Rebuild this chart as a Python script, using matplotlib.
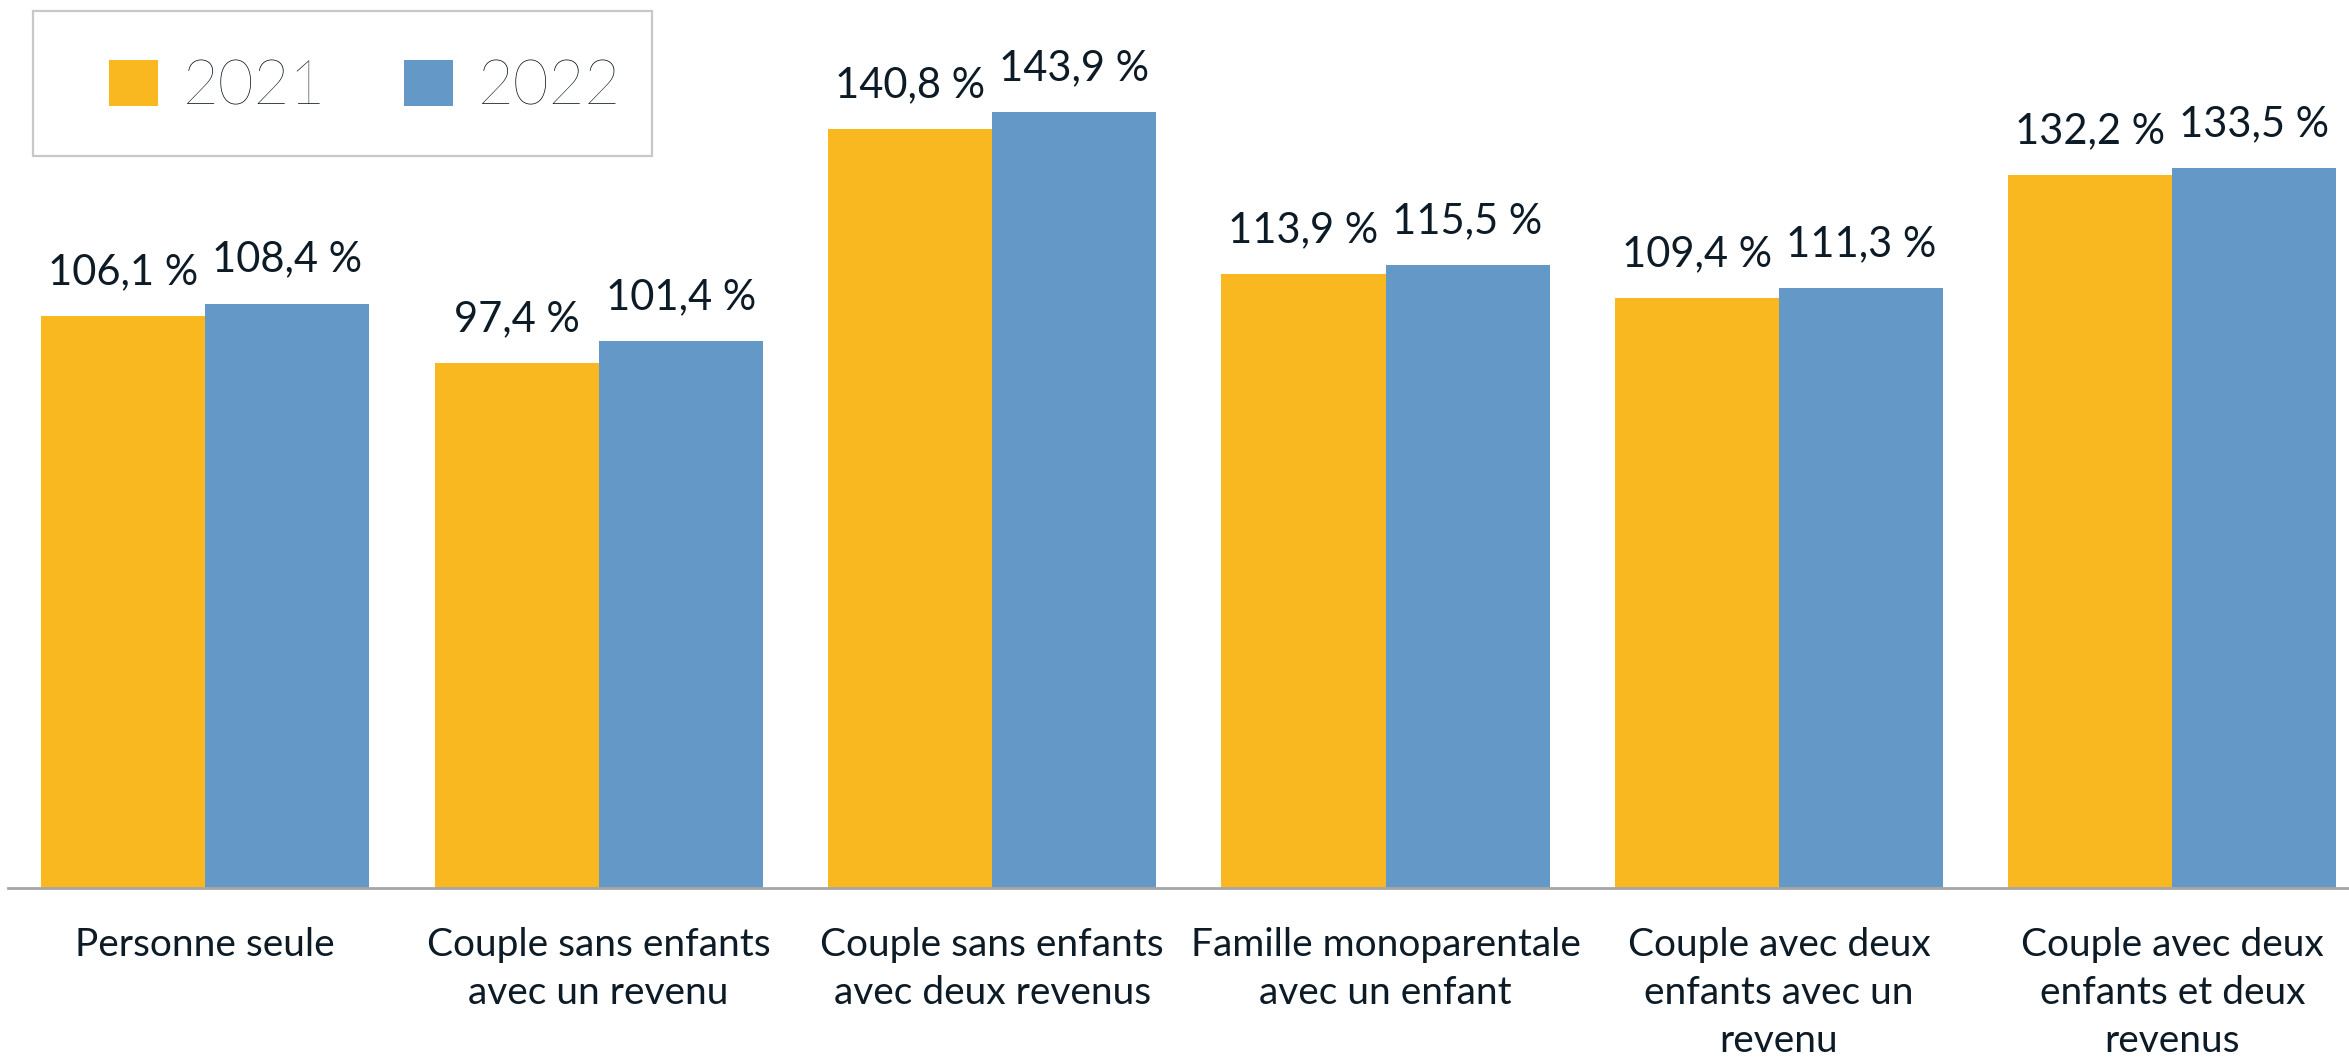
import matplotlib
matplotlib.use("Agg")
import matplotlib.pyplot as plt
from matplotlib.patches import Rectangle
import numpy as np

categories = [
    "Personne seule",
    "Couple sans enfants\navec un revenu",
    "Couple sans enfants\navec deux revenus",
    "Famille monoparentale\navec un enfant",
    "Couple avec deux\nenfants avec un\nrevenu",
    "Couple avec deux\nenfants et deux\nrevenus",
]
values_2021 = [106.1, 97.4, 140.8, 113.9, 109.4, 132.2]
values_2022 = [108.4, 101.4, 143.9, 115.5, 111.3, 133.5]
series_names = ["2021", "2022"]

COL_2021 = "#F9B81F"
COL_2022 = "#6398C7"
TXT = "#0D1B26"

plt.rcParams['font.family'] = ['Lato', 'DejaVu Sans']

fig = plt.figure(figsize=(23.49, 10.61), dpi=100)
ax = fig.add_axes([0.0032, 0.163, 0.9968, 0.837])

x = np.arange(len(categories))
w = 0.417
b1 = ax.bar(x - w / 2, values_2021, width=w, color=COL_2021, label=series_names[0], zorder=2)
b2 = ax.bar(x + w / 2, values_2022, width=w, color=COL_2022, label=series_names[1], zorder=2)

def fmt(v):
    return f"{v:.1f}".replace(".", ",") + " %"

for bars, vals in ((b1, values_2021), (b2, values_2022)):
    for rect, v in zip(bars, vals):
        ax.annotate(fmt(v), (rect.get_x() + rect.get_width() / 2, v),
                    xytext=(0, 23), textcoords="offset points",
                    ha="center", va="baseline", fontsize=30, color=TXT)

ax.set_xlim(-0.5026, 5.449)
ax.set_ylim(0, 164.7)
ax.set_xticks(x)
ax.set_xticklabels(categories, fontsize=28, color=TXT, linespacing=1.42)
ax.tick_params(axis="x", length=0, pad=28)
ax.set_yticks([])
for s in ("top", "left", "right"):
    ax.spines[s].set_visible(False)
ax.spines["bottom"].set_color("#A6A6A6")
ax.spines["bottom"].set_linewidth(2.0)
ax.spines["bottom"].set_zorder(3)

# legend frame (drawn separately so that inner padding matches the reference)
fig.patches.append(Rectangle((0.01405, 0.853), 0.2635, 0.1367, transform=fig.transFigure,
                             facecolor="white", edgecolor="#C8C8C8", linewidth=1.6,
                             zorder=4))

leg = fig.legend(handles=[b1, b2], labels=series_names, loc="upper left",
                 bbox_to_anchor=(0.0268, 0.9875), ncol=2, frameon=False,
                 prop={'family': ['Lato', 'DejaVu Sans'], 'weight': 'light', 'size': 44.5},
                 handlelength=0.78, handleheight=0.78, handletextpad=0.41,
                 columnspacing=1.27, borderpad=0.75, borderaxespad=0)
leg.set_zorder(5)
for t in leg.get_texts():
    t.set_color("#000D15")

fig.savefig("out.png", dpi=100)
